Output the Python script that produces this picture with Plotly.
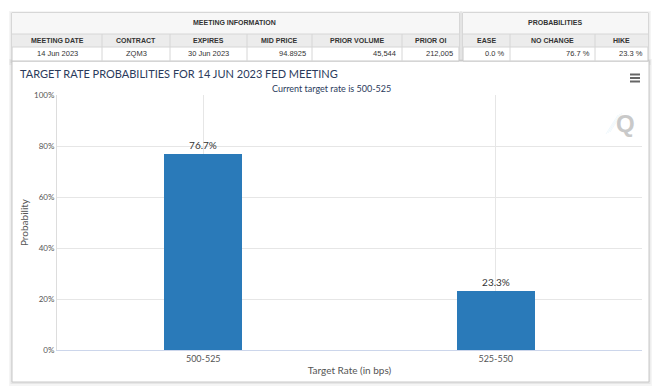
import plotly.graph_objects as go

# ---------------- data ----------------
categories = ["500-525", "525-550"]
probabilities = [76.7, 23.3]

meeting_title = "MEETING INFORMATION"
meeting_cols = ["MEETING DATE", "CONTRACT", "EXPIRES", "MID PRICE", "PRIOR VOLUME", "PRIOR OI"]
meeting_vals = ["14 Jun 2023", "ZQM3", "30 Jun 2023", "94.8925", "45,544", "212,005"]

prob_title = "PROBABILITIES"
prob_cols = ["EASE", "NO CHANGE", "HIKE"]
prob_vals = ["0.0 %", "76.7 %", "23.3 %"]

chart_title = "TARGET RATE PROBABILITIES FOR 14 JUN 2023 FED MEETING"
subtitle = "Current target rate is 500-525"
x_title = "Target Rate (in bps)"
y_title = "Probability"
y_ticks = [0, 20, 40, 60, 80, 100]
y_tick_labels = [f"{v}%" for v in y_ticks]

# ---------------- layout geometry (pixels) ----------------
W, H = 660, 392
L, R, T, B = 57, 642, 95, 350


def px(x):
    return (x - L) / (R - L)


def py(y):
    return (B - y) / (B - T)


FONT = "Lato"
TFONT = "Liberation Sans"
BAR = "#2a7ab9"

fig = go.Figure()
fig.add_trace(go.Bar(
    x=categories, y=probabilities, width=0.265,
    marker=dict(color=BAR, line=dict(width=0)),
    texttemplate="%{y:.1f}%", textposition="outside",
    textfont=dict(family=FONT, size=10, color="#333333"),
    cliponaxis=False, hoverinfo="skip",
))

shapes = []
ann = []


def rect(x0, y0, x1, y1, fill="rgba(0,0,0,0)", line="#cccccc", lw=1, layer="below"):
    shapes.append(dict(type="rect", xref="paper", yref="paper",
                       x0=px(x0), x1=px(x1), y0=py(y1), y1=py(y0),
                       fillcolor=fill, line=dict(color=line, width=lw), layer=layer))


def hline(x0, x1, y, color="#d6d6d6", lw=1, layer="below"):
    shapes.append(dict(type="line", xref="paper", yref="paper",
                       x0=px(x0), x1=px(x1), y0=py(y), y1=py(y),
                       line=dict(color=color, width=lw), layer=layer))


def vline(x, y0, y1, color="#d6d6d6", lw=1, layer="below"):
    shapes.append(dict(type="line", xref="paper", yref="paper",
                       x0=px(x), x1=px(x), y0=py(y0), y1=py(y1),
                       line=dict(color=color, width=lw), layer=layer))


def text(x, y, s, size=8, color="#333333", family=TFONT, xanchor="center", yanchor="middle", bold=False):
    if bold:
        s = "<b>" + s + "</b>"
    ann.append(dict(x=px(x), y=py(y), xref="paper", yref="paper", text=s, showarrow=False,
                    xanchor=xanchor, yanchor=yanchor, font=dict(size=size, color=color, family=family)))


# shadows
for (x0, y0, x1, y1) in [(12, 13, 459, 61), (463, 13, 648, 61), (12, 61, 649, 382)]:
    rect(x0 - 3, y0 - 2, x1 + 3, y1 + 4, fill="rgba(0,0,0,0.04)", line="rgba(0,0,0,0)", lw=0)
    rect(x0 - 1.5, y0 - 1, x1 + 1.5, y1 + 2, fill="rgba(0,0,0,0.06)", line="rgba(0,0,0,0)", lw=0)

# chart panel
rect(12, 61, 649, 382, fill="#ffffff", line="#c8c8c8")

# left table
rect(12, 13, 459, 61, fill="#ffffff", line="#c8c8c8")
rect(12, 13, 459, 34, fill="#f7f7f7", line="rgba(0,0,0,0)", lw=0)
rect(12, 34, 459, 47, fill="#ececec", line="rgba(0,0,0,0)", lw=0)
hline(12, 459, 34)
hline(12, 459, 47)
left_bounds = [12, 102, 170, 247, 312, 402, 459]
for xb in left_bounds[1:-1]:
    vline(xb, 34, 61)
text(235, 23, meeting_title, size=7, bold=True)
for i, (c, v) in enumerate(zip(meeting_cols, meeting_vals)):
    a, b = left_bounds[i], left_bounds[i + 1]
    text((a + b) / 2, 40.5, c, size=7, bold=True)
    if i < 3:
        text((a + b) / 2, 53.5, v, size=7.5)
    else:
        text(b - 4, 53.5, v, size=7.5, xanchor="right")

# right table
rect(463, 13, 648, 61, fill="#ffffff", line="#c8c8c8")
rect(463, 13, 648, 34, fill="#f7f7f7", line="rgba(0,0,0,0)", lw=0)
rect(463, 34, 648, 47, fill="#ececec", line="rgba(0,0,0,0)", lw=0)
hline(463, 648, 34)
hline(463, 648, 47)
right_bounds = [463, 510, 595, 648]
for xb in right_bounds[1:-1]:
    vline(xb, 34, 61)
text(555, 23, prob_title, size=7, bold=True)
for i, (c, v) in enumerate(zip(prob_cols, prob_vals)):
    a, b = right_bounds[i], right_bounds[i + 1]
    text((a + b) / 2, 40.5, c, size=7, bold=True)
    text(b - 3, 53.5, v, size=7.5, xanchor="right")

# chart title / subtitle
text(18, 73, chart_title, size=11, color="#2b3b5c", family=FONT, xanchor="left")
text(331, 88, subtitle, size=9, color="#2b3b5c", family=FONT)

# hamburger icon
for yy in [74.5, 78, 81.5]:
    hline(630, 640, yy, color="#666666", lw=2, layer="above")

# Q watermark
text(625, 123, "Q", size=24, color="#c9c9c9", family="Liberation Sans", bold=True)
for k in range(3):
    shapes.append(dict(type="line", xref="paper", yref="paper",
                       x0=px(606 + k * 2), x1=px(618 + k * 2), y0=py(134 - k), y1=py(115 - k),
                       line=dict(color="rgba(170,215,240,0.18)", width=1), layer="below"))

fig.update_layout(
    width=W, height=H,
    margin=dict(l=L, r=W - R, t=T, b=H - B),
    paper_bgcolor="#ffffff", plot_bgcolor="rgba(0,0,0,0)",
    showlegend=False,
    shapes=shapes, annotations=ann,
    bargap=0,
    xaxis=dict(
        type="category", range=[-0.5, 1.5],
        showgrid=True, gridcolor="#e6e6e6", gridwidth=1,
        showline=True, linecolor="#ccd6eb", linewidth=1,
        ticks="", tickfont=dict(family=FONT, size=9, color="#555555"),
        title=dict(text=x_title, font=dict(family=FONT, size=10, color="#555555"), standoff=4),
        fixedrange=True,
    ),
    yaxis=dict(
        range=[0, 100], tickvals=y_ticks, ticktext=y_tick_labels,
        showgrid=True, gridcolor="#e6e6e6", gridwidth=1,
        showline=True, linecolor="#dddddd", linewidth=1,
        zeroline=False, ticks="",
        tickfont=dict(family=FONT, size=8, color="#555555"),
        title=dict(text=y_title, font=dict(family=FONT, size=10, color="#555555"), standoff=3),
        fixedrange=True,
    ),
)

fig.write_html("out.html", config={"displayModeBar": False},
               post_script="document.body.style.margin='0px';document.body.style.overflow='hidden';")
